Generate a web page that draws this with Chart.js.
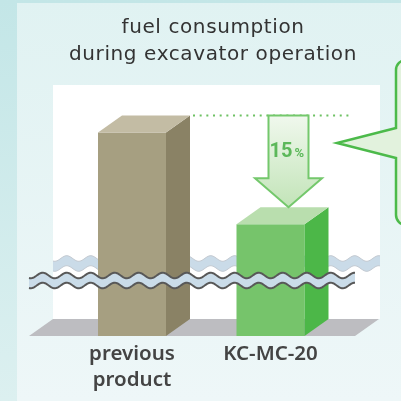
<!DOCTYPE html>
<html>
<head>
<meta charset="utf-8">
<script src="https://cdn.jsdelivr.net/npm/chart.js@4/dist/chart.umd.min.js"></script>
<style>
    html, body { margin: 0; padding: 0; background: #e3f3f3; }
    #wrap { position: relative; width: 401px; height: 401px; }
</style>
</head>
<body>
<div id="wrap"><canvas id="fuelChart"></canvas></div>
<script>
// data (relative consumption, previous = 100)
var categories = [['previous', 'product'], 'KC-MC-20'];
var consumption = [100, 85];
var reductionLabel = ['15', '%'];
var titleLines = ['fuel consumption', 'during excavator operation'];

var frontColors = ['#a69f81', '#76c46b'];
var sideColors = ['#8a8265', '#4cb748'];
var topColors = ['#c3bca4', '#b9deae'];

// 3d depth of bars and floor
var DX = 24, DY = -17;

function wavePath(ctx, x0, x1, yc) {
    for (let x = x0; x <= x1; x += 1) {
        let y = yc - 2.8 * Math.cos(2 * Math.PI * (x - 42.7) / 24);
        if (x === x0) ctx.moveTo(x, y); else ctx.lineTo(x, y);
    }
}

function waveBand(ctx, x0, x1, yTop, yBot, fill, stroke, lw) {
    ctx.beginPath();
    wavePath(ctx, x0, x1, yTop);
    for (let x = x1; x >= x0; x -= 1) {
        ctx.lineTo(x, yBot - 2.8 * Math.cos(2 * Math.PI * (x - 42.7) / 24));
    }
    ctx.closePath();
    ctx.fillStyle = fill;
    ctx.fill();
    ctx.strokeStyle = stroke;
    ctx.lineWidth = lw;
    ctx.beginPath();
    wavePath(ctx, x0, x1, yTop);
    ctx.stroke();
    ctx.beginPath();
    wavePath(ctx, x0, x1, yBot);
    ctx.stroke();
}

var scenery = {
    id: 'scenery',
    beforeDraw: function (chart) {
        let ctx = chart.ctx;
        let area = chart.chartArea;
        let base = area.bottom;
        ctx.save();
        // outer frame and panel
        let outer = ctx.createLinearGradient(0, 0, 0, 401);
        outer.addColorStop(0, '#c3e6e7');
        outer.addColorStop(1, '#dcf0f0');
        ctx.fillStyle = outer;
        ctx.fillRect(0, 0, 401, 401);
        let panel = ctx.createLinearGradient(0, 0, 0, 401);
        panel.addColorStop(0, '#e0f2f2');
        panel.addColorStop(1, '#eef7f8');
        ctx.fillStyle = panel;
        ctx.fillRect(17, 3, 384, 398);

        // white back wall
        ctx.fillStyle = '#ffffff';
        ctx.fillRect(53, area.top, 327, base + DY - area.top);

        // back wave (behind bars)
        waveBand(ctx, 53, 380, 275.5 + DY, 285.5 + DY, '#cadbe8', '#c3cad2', 1);

        // floor
        ctx.beginPath();
        ctx.moveTo(29, base);
        ctx.lineTo(355, base);
        ctx.lineTo(355 + DX, base + DY);
        ctx.lineTo(29 + DX, base + DY);
        ctx.closePath();
        ctx.fillStyle = '#bdbdc1';
        ctx.fill();

        // title
        ctx.fillStyle = '#333333';
        ctx.font = '500 20px "DejaVu Sans"';
        ctx.letterSpacing = '0.6px';
        ctx.textAlign = 'center';
        ctx.textBaseline = 'alphabetic';
        ctx.fillText(titleLines[0], 213, 33);
        ctx.fillText(titleLines[1], 213, 60);
        ctx.letterSpacing = '0px';
        ctx.restore();
    },
    afterDatasetsDraw: function (chart) {
        let ctx = chart.ctx;
        let bars = chart.getDatasetMeta(0).data;
        let floorY = chart.chartArea.bottom;
        ctx.save();
        bars.forEach(function (bar, i) {
            let l = bar.x - bar.width / 2;
            let r = bar.x + bar.width / 2;
            // side face
            ctx.beginPath();
            ctx.moveTo(r, bar.y);
            ctx.lineTo(r + DX, bar.y + DY);
            ctx.lineTo(r + DX, floorY + DY);
            ctx.lineTo(r, floorY);
            ctx.closePath();
            ctx.fillStyle = sideColors[i];
            ctx.fill();
            // top face
            ctx.beginPath();
            ctx.moveTo(l, bar.y);
            ctx.lineTo(r, bar.y);
            ctx.lineTo(r + DX, bar.y + DY);
            ctx.lineTo(l + DX, bar.y + DY);
            ctx.closePath();
            ctx.fillStyle = topColors[i];
            ctx.fill();
        });

        // front wave (over bars)
        waveBand(ctx, 29, 355, 275.5, 285.5, '#cadce9', '#585858', 2);

        // dotted reference line at the previous product level
        let b0 = bars[0], b1 = bars[1];
        let refY = b0.y + DY;
        ctx.beginPath();
        ctx.setLineDash([2, 4.67]);
        ctx.moveTo(b0.x + b0.width / 2 + DX + 3, refY);
        ctx.lineTo(353, refY);
        ctx.strokeStyle = '#6dc163';
        ctx.lineWidth = 2;
        ctx.stroke();
        ctx.setLineDash([]);

        // reduction arrow
        let ax = b1.x + 18;
        let tipY = b1.y + DY;
        let headY = tipY - 29;
        ctx.beginPath();
        ctx.moveTo(ax - 20, refY);
        ctx.lineTo(ax + 20, refY);
        ctx.lineTo(ax + 20, headY);
        ctx.lineTo(ax + 33.5, headY);
        ctx.lineTo(ax, tipY);
        ctx.lineTo(ax - 33.5, headY);
        ctx.lineTo(ax - 20, headY);
        ctx.closePath();
        let grad = ctx.createLinearGradient(0, refY, 0, tipY);
        grad.addColorStop(0, '#f0f8ed');
        grad.addColorStop(1, '#c2e4b8');
        ctx.fillStyle = grad;
        ctx.fill();
        ctx.strokeStyle = '#74c86c';
        ctx.lineWidth = 2;
        ctx.stroke();

        ctx.fillStyle = '#5cb85a';
        ctx.textBaseline = 'alphabetic';
        ctx.textAlign = 'right';
        ctx.font = 'bold 20px Roboto';
        ctx.fillText(reductionLabel[0], ax + 4, 157);
        ctx.textAlign = 'left';
        ctx.font = 'bold 13px Roboto';
        ctx.fillText(reductionLabel[1], ax + 6, 157);

        // speech bubble on the right
        ctx.beginPath();
        ctx.moveTo(396, 128);
        ctx.lineTo(337, 143);
        ctx.lineTo(396, 158);
        ctx.lineTo(396, 215);
        ctx.arcTo(396, 225, 406, 225, 10);
        ctx.lineTo(430, 225);
        ctx.lineTo(430, 60);
        ctx.lineTo(406, 60);
        ctx.arcTo(396, 60, 396, 70, 10);
        ctx.closePath();
        ctx.fillStyle = '#e2f2dd';
        ctx.fill();
        ctx.strokeStyle = '#4cba4a';
        ctx.lineWidth = 2.5;
        ctx.stroke();
        ctx.restore();
    }
};

var chart = new Chart(document.getElementById('fuelChart'), {
    type: 'bar',
    data: {
        labels: categories,
        datasets: [{
            data: consumption,
            backgroundColor: frontColors,
            borderWidth: 0,
            categoryPercentage: 1,
            barPercentage: 0.491
        }]
    },
    options: {
        responsive: true,
        maintainAspectRatio: false,
        animation: false,
        layout: {
            padding: { top: 85, left: 62.75, right: 61.25, bottom: 3 }
        },
        plugins: {
            legend: { display: false },
            tooltip: { enabled: false },
            title: { display: false }
        },
        scales: {
            x: {
                grid: { display: false, drawTicks: false },
                border: { display: false },
                ticks: {
                    padding: 5,
                    color: '#444444',
                    font: { family: 'Noto Sans', size: 20.5, weight: 600, lineHeight: 1.27 }
                }
            },
            y: {
                display: false,
                min: 66.7,
                max: 107.8
            }
        }
    },
    plugins: [scenery]
});
</script>
</body>
</html>
